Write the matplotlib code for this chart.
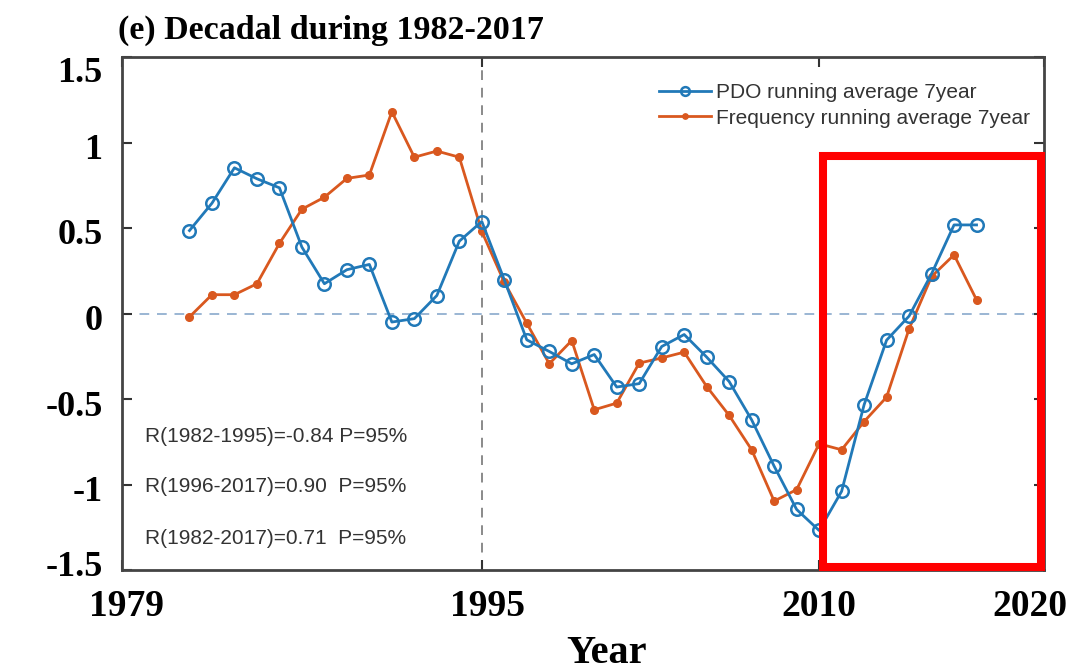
import matplotlib
matplotlib.use("Agg")
import matplotlib.pyplot as plt
import matplotlib.transforms as mtransforms
from matplotlib.patches import Rectangle

# Years of the 7-year running averages
years = list(range(1982, 2018))

# PDO index, 7-year running average
pdo = [0.485, 0.645, 0.852, 0.788, 0.735, 0.388, 0.174, 0.256, 0.287, -0.05,
       -0.03, 0.105, 0.423, 0.538, 0.197, -0.154, -0.222, -0.294, -0.24, -0.43,
       -0.41, -0.193, -0.123, -0.255, -0.398, -0.622, -0.893, -1.146, -1.269, -1.04,
       -0.534, -0.156, -0.015, 0.232, 0.518, 0.518]

# Frequency anomaly, 7-year running average
freq = [-0.02, 0.11, 0.11, 0.174, 0.41, 0.61, 0.68, 0.79, 0.81, 1.18,
        0.914, 0.95, 0.914, 0.48, 0.183, -0.057, -0.294, -0.158, -0.563, -0.524,
        -0.29, -0.26, -0.226, -0.427, -0.596, -0.797, -1.097, -1.03, -0.762, -0.797,
        -0.632, -0.489, -0.09, 0.216, 0.343, 0.08]

xticks = [1979, 1995, 2010, 2020]
yticks = [-1.5, -1, -0.5, 0, 0.5, 1, 1.5]
ytick_labels = ["-1.5", "-1", "-0.5", "0", "0.5", "1", "1.5"]

stats = ["R(1982-1995)=-0.84 P=95%",
         "R(1996-2017)=0.90  P=95%",
         "R(1982-2017)=0.71  P=95%"]

blue = "#2179b8"
orange = "#d9581f"
serif = ["Liberation Serif", "DejaVu Serif"]
sans = ["Liberation Sans", "DejaVu Sans"]

fig = plt.figure(figsize=(10.76, 6.70), dpi=100)
ax = fig.add_axes([122 / 1076, 1 - 570 / 670, (1044 - 122) / 1076, (570 - 57) / 670])

ax.axhline(0, color="#9ab5d3", lw=1.4, ls=(0, (5, 4)), zorder=1)
ax.axvline(1995, color="#8a8a8a", lw=1.4, ls=(0, (5, 4)), zorder=1)

ax.plot(years, pdo, color=blue, lw=2.0, marker="o", ms=9, mfc="none",
        mec=blue, mew=1.8, label="PDO running average 7year", zorder=3)
ax.plot(years, freq, color=orange, lw=2.0, marker="o", ms=5.5, mfc=orange,
        mec=orange, label="Frequency running average 7year", zorder=2)

ax.set_xlim(1979, 2020)
ax.set_ylim(-1.5, 1.5)
ax.set_xticks(xticks)
ax.set_xticklabels([str(t) for t in xticks], fontfamily=serif, fontweight="bold", fontsize=27)
ax.set_yticks(yticks)
ax.set_yticklabels(ytick_labels, fontfamily=serif, fontweight="bold", fontsize=26)
ax.tick_params(direction="in", top=True, right=True, length=7, width=1.5, color="#333333")
ax.tick_params(axis="y", pad=14)
ax.tick_params(axis="x", pad=14)
for s in ax.spines.values():
    s.set_linewidth(2.0)
    s.set_color("#444444")

# nudge the end labels inward so they sit clear of the frame and figure edge
def shift(label, dx, dy):
    label.set_transform(label.get_transform() +
                        mtransforms.ScaledTranslation(dx / 100, dy / 100, fig.dpi_scale_trans))

xl = ax.get_xticklabels()
shift(xl[0], 5, 0)
shift(xl[1], 6, 0)
shift(xl[-1], -14, 0)
yl = ax.get_yticklabels()
shift(yl[0], 0, 6)
shift(yl[-1], 0, -13)
for lab in yl[1:-1]:
    shift(lab, 0, -4)

ax.set_xlabel("Year", fontfamily=serif, fontweight="bold", fontsize=29, va="top")
ax.xaxis.set_label_coords(0.526, -0.126)
fig.text(118 / 1076, 1 - 30 / 670, "(e) Decadal during 1982-2017", fontfamily=serif,
         fontweight="bold", fontsize=24.5, va="center", ha="left")

leg = ax.legend(loc="upper right", frameon=False, handlelength=2.5, markerscale=0.7,
                handletextpad=0.25, labelspacing=0.3, bbox_to_anchor=(1.005, 0.985),
                prop={"family": sans, "size": 15})
for t in leg.get_texts():
    t.set_color("#333333")

for i, s in enumerate(stats):
    ax.text(145 / 1076, 1 - (436 + 51 * i) / 670, s, transform=fig.transFigure,
            fontfamily=sans, fontsize=15, color="#333333", va="center", ha="left")

fig.patches.append(Rectangle((823 / 1076, 1 - 567 / 670), 218 / 1076, 411 / 670,
                             transform=fig.transFigure, fill=False, ec="#ff0000",
                             lw=5.8, zorder=10))

fig.savefig("out.png", dpi=100)
